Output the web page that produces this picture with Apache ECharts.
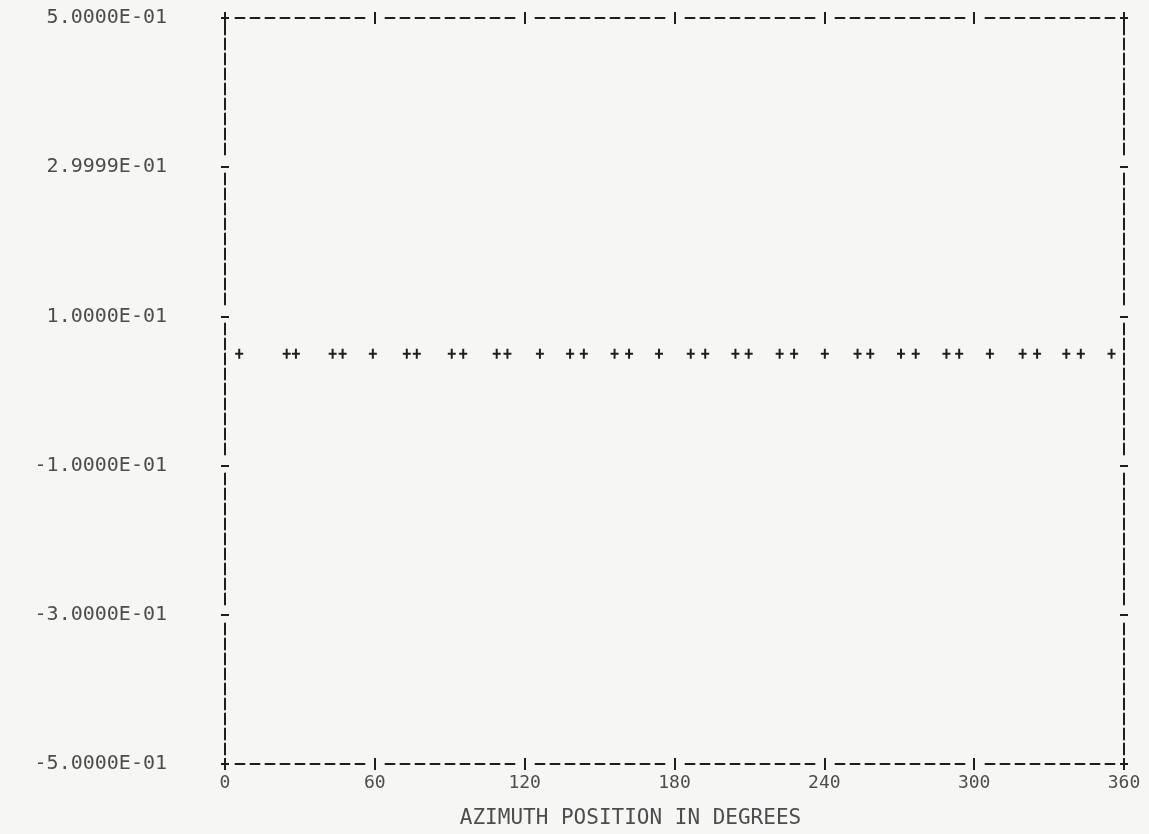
<!DOCTYPE html>
<html>
<head>
<meta charset="utf-8">
<script src="https://cdn.jsdelivr.net/npm/echarts@6/dist/echarts.min.js"></script>
<style>
html,body{margin:0;padding:0;background:#f6f6f4;}
#c{width:1149px;height:834px;}
</style>
</head>
<body>
<div id="c"></div>
<script>
// ---- data ----
const azimuth = [5.7, 24.7, 28.4, 43.1, 47.1, 59.2, 72.8, 76.8, 90.8, 95.4,
  108.8, 113.1, 126.1, 138.2, 143.7, 156.0, 161.8, 173.8, 186.5, 192.3,
  204.4, 209.7, 222.1, 227.9, 240.2, 253.3, 258.4, 270.7, 276.6, 288.9,
  294.0, 306.3, 319.4, 325.2, 336.9, 342.7, 355.0];
const values = [0.05, 0.05, 0.05, 0.05, 0.05, 0.05, 0.05, 0.05, 0.05, 0.05,
  0.05, 0.05, 0.05, 0.05, 0.05, 0.05, 0.05, 0.05, 0.05, 0.05,
  0.05, 0.05, 0.05, 0.05, 0.05, 0.05, 0.05, 0.05, 0.05, 0.05,
  0.05, 0.05, 0.05, 0.05, 0.05, 0.05, 0.05];
const xTickLabels = ['0', '60', '120', '180', '240', '300', '360'];
const yTickLabels = ['-5.0000E-01', '-3.0000E-01', '-1.0000E-01', '1.0000E-01', '2.9999E-01', '5.0000E-01'];
const xAxisTitle = 'AZIMUTH POSITION IN DEGREES';

// ---- styling ----
const ink = '#1e1e1e';
const textInk = '#4d4d4d';
const mono = '"DejaVu Sans Mono", "Liberation Mono", monospace';

// horizontal frame: 9 dash characters between "I" columns (period 150px)
const hDash = [9,6,9,6,9,6,9,6,9,6,9,6,9,6,9,6,9,21];
// vertical frame: 9 "I" characters between "-" rows (period 150px)
const vDash = [11,4,11,4,11,4,11,4,11,4,11,4,11,4,11,4,11,19];

function xAxisCfg(position, inside, main) {
  return {
    type: 'value', position: position, min: 0, max: 360, interval: 60,
    axisLine: main ? {show: true, onZero: false, lineStyle: {color: ink, width: 2, type: hDash, dashOffset: 139.5}} : {show: false, onZero: false},
    axisTick: {show: true, inside: inside, length: 6, lineStyle: {color: ink, width: 2}},
    axisLabel: (main && position === 'bottom') ? {
      show: true, margin: 10, color: textInk, fontFamily: mono, fontSize: 18,
      formatter: v => xTickLabels[Math.round(v / 60)]
    } : {show: false},
    splitLine: {show: false},
    name: (main && position === 'bottom') ? xAxisTitle : '',
    nameLocation: 'middle', nameGap: 44,
    nameTextStyle: {fontFamily: mono, fontSize: 21, color: textInk, padding: [0, 88, 0, 0]}
  };
}
function yAxisCfg(position, inside, main) {
  return {
    type: 'value', position: position, min: -0.5, max: 0.5, interval: 0.2,
    axisLine: main ? {show: true, onZero: false, lineStyle: {color: ink, width: 2, type: vDash, dashOffset: 140.5}} : {show: false, onZero: false},
    axisTick: {show: true, inside: inside, length: 4, lineStyle: {color: ink, width: 2}},
    axisLabel: (main && position === 'left') ? {
      show: true, margin: 58, color: textInk, fontFamily: mono, fontSize: 20,
      formatter: v => yTickLabels[Math.round((v + 0.5) / 0.2)]
    } : {show: false},
    splitLine: {show: false}
  };
}

const chart = echarts.init(document.getElementById('c'), null, {renderer: 'canvas'});
chart.setOption({
  backgroundColor: '#f6f6f4',
  animation: false,
  grid: {left: 225, right: 25, top: 18, bottom: 66, containLabel: false},
  xAxis: [
    xAxisCfg('bottom', false, true),
    xAxisCfg('bottom', true, false),
    xAxisCfg('top', false, true),
    xAxisCfg('top', true, false)
  ],
  yAxis: [
    yAxisCfg('left', false, true),
    yAxisCfg('left', true, false),
    yAxisCfg('right', false, true),
    yAxisCfg('right', true, false)
  ],
  series: [{
    type: 'scatter',
    xAxisIndex: 0, yAxisIndex: 0,
    symbol: 'path://M3,0H5V4H8V6H5V10H3V6H0V4H3Z',
    symbolSize: [8, 10],
    itemStyle: {color: ink, opacity: 1},
    data: azimuth.map((a, i) => [a, values[i]])
  }]
});
</script>
</body>
</html>
